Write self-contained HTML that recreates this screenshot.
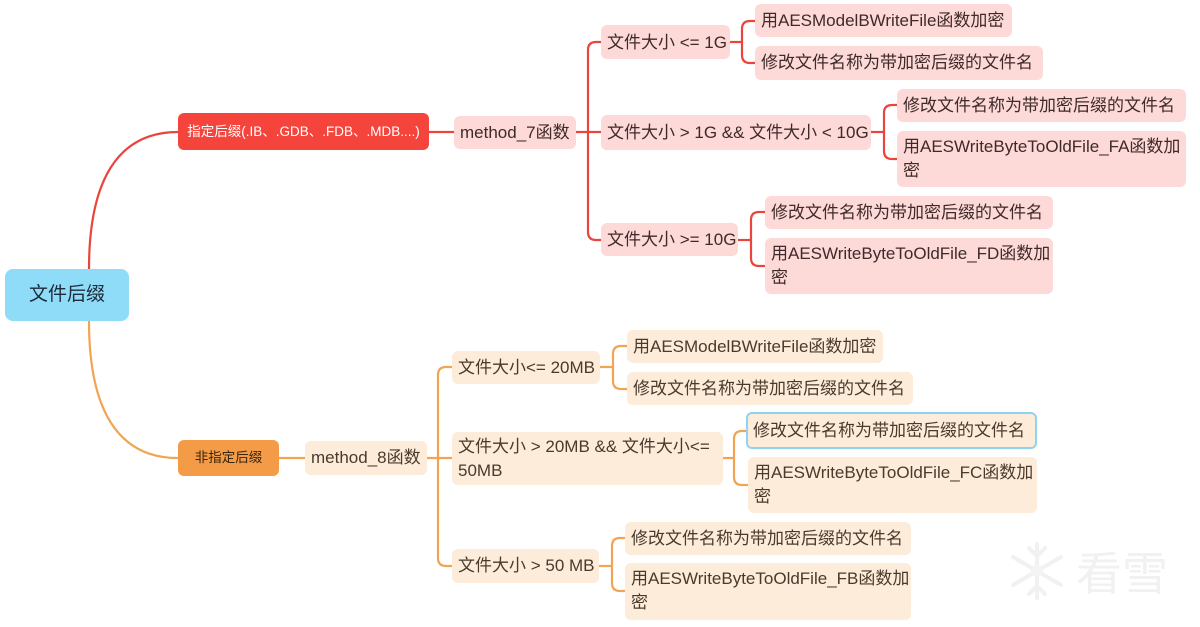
<!DOCTYPE html>
<html>
<head>
<meta charset="utf-8">
<style>
html,body{margin:0;padding:0;background:#fff;}
#c{position:relative;width:1200px;height:627px;overflow:hidden;background:#fff;
font-family:"Liberation Sans","Noto Sans CJK SC",sans-serif;}
svg{position:absolute;left:0;top:0;}
.n{position:absolute;box-sizing:border-box;border-radius:6px;font-size:17px;white-space:nowrap;padding-left:6px;}
.p{background:#fdd9d7;color:#3e2a2a;}
.o{background:#fdecda;color:#4a3a2c;}
.two{line-height:24px;padding-top:4px;}
</style>
</head>
<body>
<div id="c">
<svg width="1200" height="627" viewBox="0 0 1200 627">
<g fill="none" stroke="#e9453c" stroke-width="2.2">
<path d="M89,269 C89,180 118,132 178,132"/>
<path d="M429,132 H454"/>
<path d="M576,132 H601"/>
<path d="M601,42 H596 Q588,42 588,50 V232 Q588,240 596,240 H601"/>
<path d="M730,42 H742"/>
<path d="M755,21 H750 Q742,21 742,29 V55 Q742,63 750,63 H755"/>
<path d="M871,132 H884"/>
<path d="M897,105 H892 Q884,105 884,113 V151 Q884,159 892,159 H897"/>
<path d="M738,240 H751"/>
<path d="M765,212 H759 Q751,212 751,220 V258 Q751,266 759,266 H765"/>
</g>
<g fill="none" stroke="#f1a452" stroke-width="2.2">
<path d="M89,321 C89,410 118,458 178,458"/>
<path d="M279,458 H305"/>
<path d="M427,458 H452"/>
<path d="M452,367 H446 Q438,367 438,375 V558 Q438,566 446,566 H452"/>
<path d="M600,367 H613"/>
<path d="M627,346 H621 Q613,346 613,354 V381 Q613,389 621,389 H627"/>
<path d="M723,458 H734"/>
<path d="M746,431 H742 Q734,431 734,439 V477 Q734,485 742,485 H748"/>
<path d="M599,566 H612"/>
<path d="M625,538 H620 Q612,538 612,546 V583 Q612,591 620,591 H625"/>
</g>
<!-- watermark -->
<g stroke="#f1f1f1" stroke-width="4" stroke-linecap="round" fill="none">
<path d="M1037,544 V598"/>
<path d="M1013,557 L1061,585"/>
<path d="M1013,585 L1061,557"/>
<path d="M1029,548 L1037,556 L1045,548"/>
<path d="M1029,594 L1037,586 L1045,594"/>
</g>
<circle cx="1037" cy="571" r="6" fill="#f4f4f4"/>
<text x="1076" y="590" font-size="46" fill="#f1f1f1" font-family="'Noto Sans CJK SC',sans-serif">看雪</text>
</svg>

<div class="n" style="left:5px;top:269px;width:124px;height:52px;line-height:52px;background:#8fdcf8;color:#1d2b3a;font-size:19px;padding:0;text-align:center;border-radius:8px;">文件后缀</div>

<div class="n" style="left:178px;top:113px;width:251px;height:37px;line-height:37px;background:#f5443c;color:#fff;font-size:13.5px;padding:0;text-align:center;">指定后缀(.IB、.GDB、.FDB、.MDB....)</div>
<div class="n p" style="left:454px;top:116px;width:122px;height:33px;line-height:33px;">method_7函数</div>

<div class="n p" style="left:601px;top:25px;width:129px;height:34px;line-height:35px;">文件大小 &lt;= 1G</div>
<div class="n p" style="left:755px;top:4px;width:257px;height:33px;line-height:33px;">用AESModelBWriteFile函数加密</div>
<div class="n p" style="left:755px;top:46px;width:288px;height:34px;line-height:34px;">修改文件名称为带加密后缀的文件名</div>

<div class="n p" style="left:601px;top:115px;width:270px;height:35px;line-height:35px;">文件大小 &gt; 1G &amp;&amp; 文件大小 &lt; 10G</div>
<div class="n p" style="left:897px;top:89px;width:289px;height:33px;line-height:33px;">修改文件名称为带加密后缀的文件名</div>
<div class="n p two" style="left:897px;top:131px;width:289px;height:56px;">用AESWriteByteToOldFile_FA函数加<br>密</div>

<div class="n p" style="left:601px;top:223px;width:137px;height:33px;line-height:34px;">文件大小 &gt;= 10G</div>
<div class="n p" style="left:765px;top:196px;width:288px;height:33px;line-height:33px;">修改文件名称为带加密后缀的文件名</div>
<div class="n p two" style="left:765px;top:238px;width:288px;height:56px;">用AESWriteByteToOldFile_FD函数加<br>密</div>

<div class="n" style="left:178px;top:440px;width:101px;height:36px;line-height:36px;background:#f39b46;color:#3a2510;font-size:13.5px;padding:0;text-align:center;">非指定后缀</div>
<div class="n o" style="left:305px;top:441px;width:122px;height:34px;line-height:34px;">method_8函数</div>

<div class="n o" style="left:452px;top:351px;width:148px;height:33px;line-height:33px;">文件大小&lt;= 20MB</div>
<div class="n o" style="left:627px;top:330px;width:256px;height:33px;line-height:33px;">用AESModelBWriteFile函数加密</div>
<div class="n o" style="left:627px;top:372px;width:286px;height:33px;line-height:33px;">修改文件名称为带加密后缀的文件名</div>

<div class="n o two" style="left:452px;top:432px;width:271px;height:53px;padding-top:3px;">文件大小 &gt; 20MB &amp;&amp; 文件大小&lt;=<br>50MB</div>
<div class="n o" style="left:746px;top:412px;width:291px;height:37px;line-height:33px;border:2px solid #8fd3f3;padding-left:5px;">修改文件名称为带加密后缀的文件名</div>
<div class="n o two" style="left:748px;top:457px;width:289px;height:56px;">用AESWriteByteToOldFile_FC函数加<br>密</div>

<div class="n o" style="left:452px;top:549px;width:147px;height:34px;line-height:34px;">文件大小 &gt; 50 MB</div>
<div class="n o" style="left:625px;top:522px;width:286px;height:33px;line-height:33px;">修改文件名称为带加密后缀的文件名</div>
<div class="n o two" style="left:625px;top:563px;width:286px;height:57px;">用AESWriteByteToOldFile_FB函数加<br>密</div>
</div>
</body>
</html>
